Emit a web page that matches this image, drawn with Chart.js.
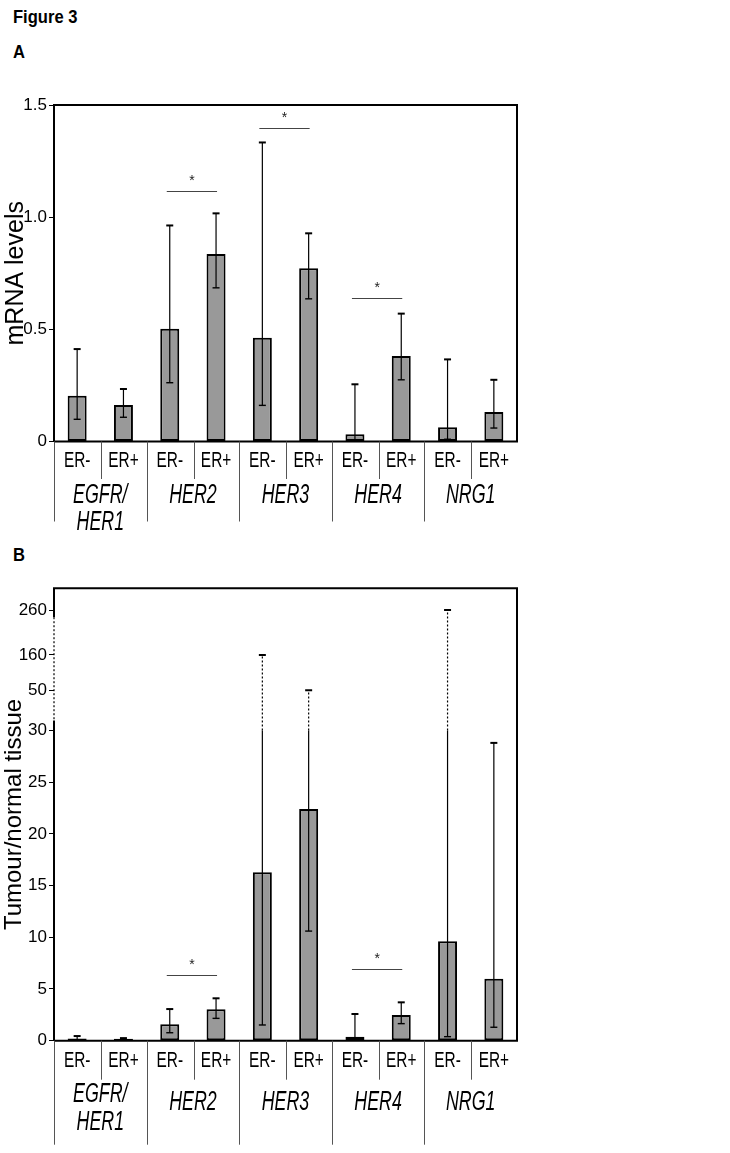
<!DOCTYPE html>
<html>
<head>
<meta charset="utf-8">
<script src="https://cdn.jsdelivr.net/npm/chart.js@4.4.1/dist/chart.umd.min.js"></script>
<style>
  body { margin: 0; background: #fff; font-family: "Liberation Sans", Arial, sans-serif; overflow: hidden; }
  #page { position: relative; width: 730px; height: 1153px; }
  .lbl { position: absolute; left: 13px; font-weight: bold; color: #000; transform-origin: left top; transform: scaleX(0.92); }
  canvas { position: absolute; left: 0; }
</style>
</head>
<body>
<div id="page">
  <div class="lbl" style="top:7px;font-size:18px;">Figure 3</div>
  <div class="lbl" style="top:42px;font-size:18px;">A</div>
  <div class="lbl" style="top:545px;font-size:18px;">B</div>
  <canvas id="chartA" width="530" height="470" style="top:60px;"></canvas>
  <canvas id="chartB" width="530" height="588" style="top:565px;"></canvas>
</div>
<script>
// categories
const erLabels = ["ER-", "ER+", "ER-", "ER+", "ER-", "ER+", "ER-", "ER+", "ER-", "ER+"];
const genes = ["EGFR/\nHER1", "HER2", "HER3", "HER4", "NRG1"];

// panel A: mRNA levels (mean, error bar low / high)
const mrnaMean = [0.204, 0.163, 0.503, 0.836, 0.463, 0.772, 0.032, 0.381, 0.063, 0.131];
const mrnaLow  = [0.099, 0.108, 0.262, 0.685, 0.161, 0.636, 0.007, 0.275, 0.010, 0.060];
const mrnaHigh = [0.412, 0.234, 0.963, 1.017, 1.333, 0.928, 0.255, 0.570, 0.366, 0.275];
const mrnaTicks = [0, 0.5, 1.0, 1.5];
const mrnaSigPairs = [[2, 3], [4, 5], [6, 7]];
const mrnaSigLevel = [1.118, 1.399, 0.638];

// panel B: tumour / normal tissue ratio
const ratioMean = [0.22, 0.18, 1.58, 3.03, 16.3, 22.4, 0.39, 2.49, 9.61, 6.0];
const ratioLow  = [0.05, 0.12, 0.77, 2.16, 1.52, 10.6, 0.05, 1.65, 0.39, 1.3];
const ratioHigh = [0.45, 0.25, 3.06, 4.10, 160, 50, 2.58, 3.71, 260, 28.8];
const ratioTicks = [0, 5, 10, 15, 20, 25, 30, 50, 160, 260];
const ratioSigPairs = [[2, 3], [6, 7]];
const ratioSigLevel = [6.35, 6.93];

// broken axis for panel B: real values -> axis units
const breakVals = [0, 30, 50, 160, 260];
const breakAxis = [0, 30, 33.89, 37.30, 41.65];
const ratioAxisTop = 43.75;

function toAxis(v) {
  for (let i = 1; i < breakVals.length; i++) {
    if (v <= breakVals[i] || i === breakVals.length - 1) {
      const t = (v - breakVals[i - 1]) / (breakVals[i] - breakVals[i - 1]);
      return breakAxis[i - 1] + t * (breakAxis[i] - breakAxis[i - 1]);
    }
  }
  return v;
}
function fromAxis(a) {
  for (let i = 1; i < breakAxis.length; i++) {
    if (a <= breakAxis[i] || i === breakAxis.length - 1) {
      const t = (a - breakAxis[i - 1]) / (breakAxis[i] - breakAxis[i - 1]);
      return breakVals[i - 1] + t * (breakVals[i] - breakVals[i - 1]);
    }
  }
  return a;
}

class BrokenLinearScale extends Chart.LinearScale {
  getPixelForValue(value) {
    return value === null || value === undefined ? NaN : super.getPixelForValue(toAxis(value));
  }
  getValueForPixel(pixel) {
    return fromAxis(super.getValueForPixel(pixel));
  }
}
BrokenLinearScale.id = "brokenLinear";
BrokenLinearScale.defaults = Chart.LinearScale.defaults;
Chart.register(BrokenLinearScale);

const FONT = '"Liberation Sans", Arial, sans-serif';

// the category text in the figure is a narrow face, so squeeze it sideways
function squishText(ctx, text, x, y, font, sx) {
  ctx.save();
  ctx.font = font;
  ctx.translate(x, y);
  ctx.scale(sx, 1);
  ctx.fillText(text, 0, 0);
  ctx.restore();
}

// box around the plot, with an optional dotted stretch on the left axis
function framePlugin(dotFrom, dotTo) {
  return {
    id: "frame",
    afterDatasetsDraw(chart) {
      const { ctx, chartArea: a } = chart;
      const y = chart.scales.y;
      ctx.save();
      ctx.strokeStyle = "#000";
      ctx.lineWidth = 2;
      ctx.beginPath();
      ctx.moveTo(a.left, a.bottom);
      ctx.lineTo(a.right, a.bottom);
      ctx.lineTo(a.right, a.top);
      ctx.lineTo(a.left, a.top);
      if (dotFrom != null) {
        const yTop = y.getPixelForValue(dotTo);
        const yBot = y.getPixelForValue(dotFrom);
        ctx.lineTo(a.left, yTop);
        ctx.moveTo(a.left, yBot);
        ctx.lineTo(a.left, a.bottom);
        ctx.stroke();
        ctx.lineWidth = 1.2;
        ctx.setLineDash([2, 2]);
        ctx.beginPath();
        ctx.moveTo(a.left, yTop);
        ctx.lineTo(a.left, yBot);
        ctx.stroke();
      } else {
        ctx.lineTo(a.left, a.bottom);
        ctx.stroke();
      }
      ctx.restore();
    }
  };
}

function errorBarPlugin(low, high, dashAbove) {
  return {
    id: "errorBars",
    afterDatasetsDraw(chart) {
      const ctx = chart.ctx;
      const y = chart.scales.y;
      const bars = chart.getDatasetMeta(0).data;
      ctx.save();
      ctx.strokeStyle = "#000";
      bars.forEach((bar, i) => {
        const x = bar.x;
        const yLo = y.getPixelForValue(low[i]);
        const yHi = y.getPixelForValue(high[i]);
        const broken = dashAbove != null && high[i] > dashAbove;
        const yMid = broken ? y.getPixelForValue(dashAbove) : yHi;
        ctx.lineWidth = 1.2;
        ctx.beginPath();
        ctx.moveTo(x, yLo);
        ctx.lineTo(x, yMid);
        ctx.stroke();
        if (broken) {
          ctx.setLineDash([2, 2]);
          ctx.beginPath();
          ctx.moveTo(x, yMid);
          ctx.lineTo(x, yHi);
          ctx.stroke();
          ctx.setLineDash([]);
        }
        ctx.lineWidth = 2;
        ctx.beginPath();
        ctx.moveTo(x - 3.5, yHi);
        ctx.lineTo(x + 3.5, yHi);
        ctx.stroke();
        ctx.lineWidth = 1.4;
        ctx.beginPath();
        ctx.moveTo(x - 3.5, yLo);
        ctx.lineTo(x + 3.5, yLo);
        ctx.stroke();
      });
      ctx.restore();
    }
  };
}

function sigPlugin(pairs, levels) {
  return {
    id: "sig",
    afterDatasetsDraw(chart) {
      const ctx = chart.ctx;
      const y = chart.scales.y;
      const bars = chart.getDatasetMeta(0).data;
      ctx.save();
      ctx.strokeStyle = "#444";
      ctx.fillStyle = "#222";
      ctx.lineWidth = 1;
      ctx.textAlign = "center";
      ctx.textBaseline = "middle";
      ctx.font = "14px " + FONT;
      pairs.forEach((p, k) => {
        const x1 = bars[p[0]].x - 3;
        const x2 = bars[p[1]].x + 1;
        const yy = Math.round(y.getPixelForValue(levels[k])) + 0.5;
        ctx.beginPath();
        ctx.moveTo(x1, yy);
        ctx.lineTo(x2, yy);
        ctx.stroke();
        ctx.fillText("*", (x1 + x2) / 2, yy - 10);
      });
      ctx.restore();
    }
  };
}

// two level category labels under the plot
function categoryPlugin(rows) {
  return {
    id: "categories",
    afterDraw(chart) {
      const { ctx, chartArea: a } = chart;
      const x = chart.scales.x;
      const slot = x.getPixelForValue(1) - x.getPixelForValue(0);
      ctx.save();
      ctx.fillStyle = "#000";
      ctx.textAlign = "center";
      ctx.textBaseline = "middle";
      erLabels.forEach((t, i) => {
        squishText(ctx, t, x.getPixelForValue(i), a.bottom + rows.er, "22px " + FONT, 0.7);
      });
      genes.forEach((g, k) => {
        const cx = (x.getPixelForValue(2 * k) + x.getPixelForValue(2 * k + 1)) / 2;
        const lines = g.split("\n");
        if (lines.length > 1) {
          squishText(ctx, lines[0], cx, a.bottom + rows.two[0], "italic 27px " + FONT, 0.66);
          squishText(ctx, lines[1], cx, a.bottom + rows.two[1], "italic 27px " + FONT, 0.66);
        } else {
          squishText(ctx, g, cx, a.bottom + rows.one, "italic 27px " + FONT, 0.66);
        }
        const xl = Math.round(x.getPixelForValue(2 * k) - slot / 2) + 0.5;
        const xm = Math.round(xl + slot) + 0.5;
        ctx.strokeStyle = "#555";
        ctx.lineWidth = 1;
        ctx.beginPath();
        ctx.moveTo(xl, a.bottom);
        ctx.lineTo(xl, a.bottom + rows.long);
        ctx.moveTo(xm, a.bottom);
        ctx.lineTo(xm, a.bottom + rows.short);
        ctx.stroke();
      });
      ctx.restore();
    }
  };
}

function baseOptions(padTop, padBottom) {
  return {
    responsive: false,
    animation: false,
    devicePixelRatio: 1,
    layout: { padding: { top: padTop, bottom: padBottom, left: 0, right: 13 } },
    plugins: { legend: { display: false }, tooltip: { enabled: false } },
    scales: {
      x: { display: false, offset: true }
    }
  };
}

function yAxis(title, titleSize, titlePad, extra) {
  return Object.assign({
    afterFit(scale) { scale.width = 54; },
    border: { display: false },
    grid: { drawOnChartArea: false, drawTicks: true, tickLength: 5, color: "#000", lineWidth: 1 },
    title: { display: true, text: title, color: "#000", font: { family: FONT, size: titleSize }, padding: { top: titlePad, bottom: 0 } }
  }, extra);
}

function barDataset(values) {
  return {
    data: values,
    backgroundColor: "#999999",
    borderColor: "#000",
    borderWidth: 2,
    borderSkipped: false,
    barPercentage: 0.41,
    categoryPercentage: 1
  };
}

// Panel A
const optsA = baseOptions(45, 88.5);
optsA.scales.y = yAxis("mRNA levels", 25, 1, {
  min: 0,
  max: 1.5,
  afterBuildTicks(scale) { scale.ticks = mrnaTicks.map(v => ({ value: v })); },
  ticks: { color: "#000", font: { family: FONT, size: 17 }, padding: 2, autoSkip: false,
    callback: v => (v === 0 ? "0" : v.toFixed(1)) }
});
new Chart(document.getElementById("chartA"), {
  type: "bar",
  data: { labels: erLabels, datasets: [barDataset(mrnaMean)] },
  options: optsA,
  plugins: [
    errorBarPlugin(mrnaLow, mrnaHigh, null),
    framePlugin(null, null),
    sigPlugin(mrnaSigPairs, mrnaSigLevel),
    categoryPlugin({ er: 19, one: 54, two: [54, 81], short: 37.5, long: 80 })
  ]
});

// Panel B
const optsB = baseOptions(23.3, 112.3);
optsB.scales.y = yAxis("Tumour/normal tissue", 24, 0, {
  type: "brokenLinear",
  bounds: "data",
  min: 0,
  max: ratioAxisTop,
  afterBuildTicks(scale) { scale.ticks = ratioTicks.map(v => ({ value: v })); },
  ticks: { color: "#000", font: { family: FONT, size: 17 }, padding: 2, autoSkip: false,
    callback: v => String(v) }
});
new Chart(document.getElementById("chartB"), {
  type: "bar",
  data: { labels: erLabels, datasets: [barDataset(ratioMean)] },
  options: optsB,
  plugins: [
    errorBarPlugin(ratioLow, ratioHigh, 30),
    framePlugin(35, 244),
    sigPlugin(ratioSigPairs, ratioSigLevel),
    categoryPlugin({ er: 20, one: 62, two: [54, 82], short: 39, long: 104 })
  ]
});
</script>
</body>
</html>
